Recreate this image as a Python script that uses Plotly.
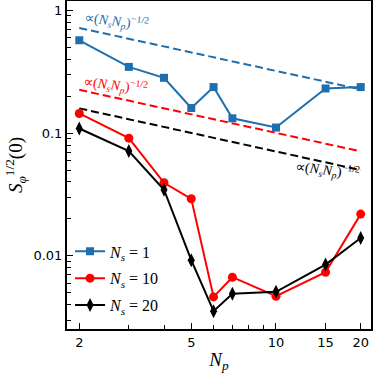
import plotly.graph_objects as go

Np = [2, 3, 4, 5, 6, 7, 10, 15, 20]
S_ns1 = [0.57, 0.346, 0.282, 0.160, 0.237, 0.132, 0.111, 0.231, 0.237]
S_ns10 = [0.1445, 0.091, 0.0394, 0.0292, 0.00464, 0.00671, 0.0047, 0.00737, 0.0219]
S_ns20 = [0.109, 0.0714, 0.0346, 0.00923, 0.00355, 0.00493, 0.0051, 0.0085, 0.0140]

ref_x = [2, 20]
ref_ns1 = [0.718, 0.227]
ref_ns10 = [0.225, 0.071]
ref_ns20 = [0.159, 0.050]

blue = "#1f6fae"
red = "#ff0000"
black = "#000000"

serif = "Liberation Serif"
sans = "DejaVu Sans"

fig = go.Figure()

for yref, col in [(ref_ns1, blue), (ref_ns10, red), (ref_ns20, black)]:
    fig.add_trace(go.Scatter(x=ref_x, y=yref, mode="lines",
                             line=dict(color=col, width=2, dash="8px,4px"),
                             showlegend=False, hoverinfo="skip"))

series = [
    (S_ns1, blue, "square", 8, "<i>N<sub>s</sub></i> = 1"),
    (S_ns10, red, "circle", 9, "<i>N<sub>s</sub></i> = 10"),
    (S_ns20, black, "diamond-tall", 10, "<i>N<sub>s</sub></i> = 20"),
]
for i, (ys, col, sym, sz, name) in enumerate(series):
    fig.add_trace(go.Scatter(x=Np, y=ys, mode="lines+markers", name=name,
                             legendgroup=f"g{i}",
                             line=dict(color=col, width=2),
                             marker=dict(symbol=sym, size=sz, color=col,
                                         line=dict(width=0))))

lab = "∝(<i>N<sub>s</sub>N<sub>p</sub></i>)<sup>−1/2</sup>"
for xp, yp, col in [(0.163, 0.938, blue), (0.158, 0.745, red), (0.858, 0.485, black)]:
    fig.add_annotation(x=xp, y=yp, xref="paper", yref="paper", text=lab,
                       showarrow=False, textangle=7, xanchor="center", yanchor="middle",
                       font=dict(family=serif, size=14, color=col))

axis_common = dict(type="log", showline=True, linecolor="black", linewidth=2,
                   mirror=True, showgrid=False, zeroline=False, automargin=False,
                   ticks="inside", tickcolor="black", ticklen=6, tickwidth=1,
                   tickfont=dict(family=sans, size=13, color="black"))

fig.update_xaxes(**axis_common, range=[0.2574, 1.3376],
                 tickmode="array", tickvals=[2, 5, 10, 15, 20],
                 ticktext=["2", "5", "10", "15", "20"],
                 minor=dict(tickmode="array", tickvals=[3, 4, 6, 7, 8, 9],
                            ticks="inside", ticklen=4, tickcolor="black", showgrid=False),
                 title=dict(text="<i>N<sub>p</sub></i>", font=dict(family=serif, size=19, color="black"),
                            standoff=4))
fig.update_yaxes(**axis_common, range=[-2.595, 0.0756],
                 tickmode="array", tickvals=[0.01, 0.1, 1],
                 ticktext=["0.01", "0.1", "1"],
                 minor=dict(tickmode="array",
                            tickvals=[0.003, 0.004, 0.005, 0.006, 0.007, 0.008, 0.009,
                                      0.02, 0.03, 0.04, 0.05, 0.06, 0.07, 0.08, 0.09,
                                      0.2, 0.3, 0.4, 0.5, 0.6, 0.7, 0.8, 0.9],
                            ticks="inside", ticklen=4, tickcolor="black", showgrid=False),
                 title=dict(text="<i>S<sub>φ</sub></i><sup>1/2</sup>(0)",
                            font=dict(family=serif, size=19, color="black"), standoff=6))

fig.update_layout(width=374, height=374,
                  margin=dict(l=67, r=3, t=1, b=45),
                  plot_bgcolor="white", paper_bgcolor="white",
                  legend=dict(x=0.01, y=0.02, xanchor="left", yanchor="bottom",
                              bgcolor="rgba(0,0,0,0)", tracegroupgap=3,
                              font=dict(family=serif, size=16, color="black")),
                  showlegend=True)

fig.write_html("out.html", config={"displayModeBar": False},
               post_script="document.body.style.margin='0';document.body.style.padding='0';")
